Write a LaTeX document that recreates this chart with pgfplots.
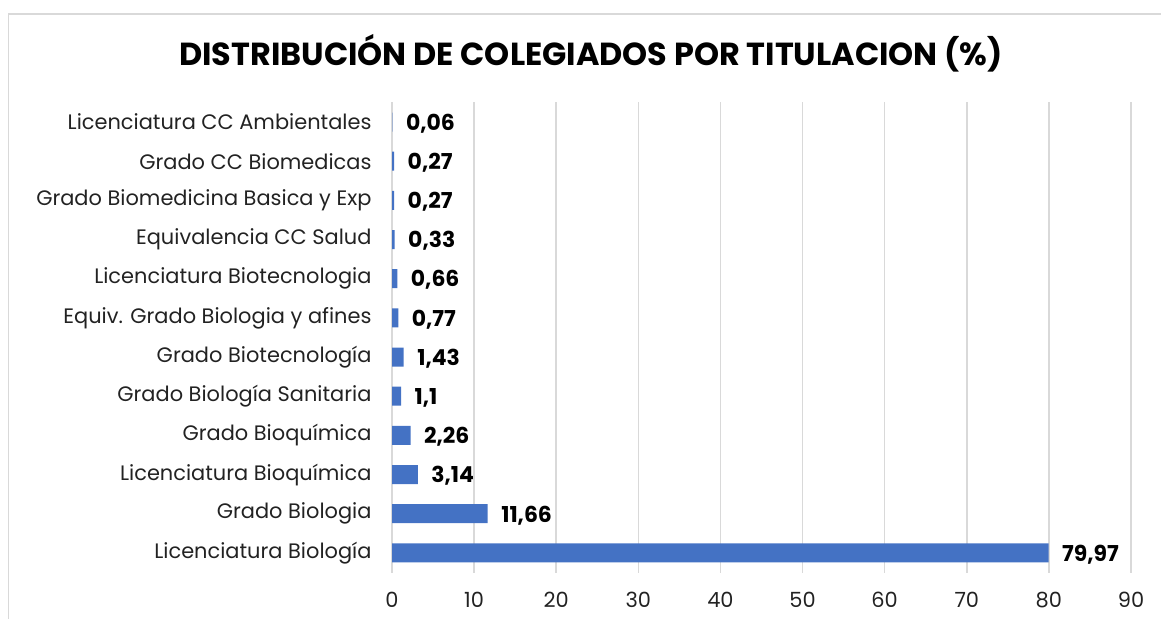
\documentclass[border=0pt]{standalone}
\usepackage{pgfplots}
\pgfplotsset{compat=1.18}
\usepackage{pgfplotstable}
\usepackage{fontspec}
\setmainfont{Poppins}
\definecolor{barc}{HTML}{4472C4}
\definecolor{gridc}{HTML}{D9D9D9}
\definecolor{txt}{HTML}{222222}
\pgfplotstableread{
y x lab
0 79.97 79,97
1 11.66 11,66
2 3.14 3,14
3 2.26 2,26
4 1.1 1,1
5 1.43 1,43
6 0.77 0,77
7 0.66 0,66
8 0.33 0,33
9 0.27 0,27
10 0.27 0,27
11 0.06 0,06
}\data
\begin{document}
\begin{tikzpicture}
\path[use as bounding box] (0,0) rectangle (1161bp,619bp);
\draw[gridc, line width=1.5bp] (8.5bp,0) -- (8.5bp,605bp) -- (1161bp,605bp);
\node[font=\bfseries\fontsize{32}{32}\selectfont, text=black] at (591bp,566bp) {DISTRIBUCIÓN DE COLEGIADOS POR TITULACION (\%)};
\begin{axis}[
  at={(392bp,46.5bp)}, anchor=south west,
  width=739bp, height=470bp, scale only axis,
  xmin=0, xmax=90, ymin=-0.5, ymax=11.5,
  axis line style={draw=none},
  tick style={draw=none},
  xmajorgrids, grid style={gridc, line width=1.5bp},
  xtick={0,10,...,90},
  ytick={0,...,11},
  yticklabels={Licenciatura Biología, Grado Biologia, Licenciatura Bioquímica, Grado Bioquímica, Grado Biología Sanitaria, Grado Biotecnología, Equiv. Grado Biologia y afines, Licenciatura Biotecnologia, Equivalencia CC Salud, Grado Biomedicina Basica y Exp, Grado CC Biomedicas, Licenciatura CC Ambientales},
  /pgf/number format/assume math mode=true,
  ticklabel style={font=\fontsize{21}{21}\selectfont, text=txt},
  xticklabel style={yshift=-16bp},
  yticklabel style={xshift=-17bp},
  clip=false,
]
\addplot[xbar, bar width=19bp, draw=none, fill=barc,
  nodes near coords, point meta=explicit symbolic,
  nodes near coords style={font=\bfseries\fontsize{22}{22}\selectfont, text=black, anchor=west, xshift=10bp, yshift=-1.5bp}]
  table[x=x, y=y, meta=lab] {\data};
\end{axis}
\end{tikzpicture}
\end{document}
